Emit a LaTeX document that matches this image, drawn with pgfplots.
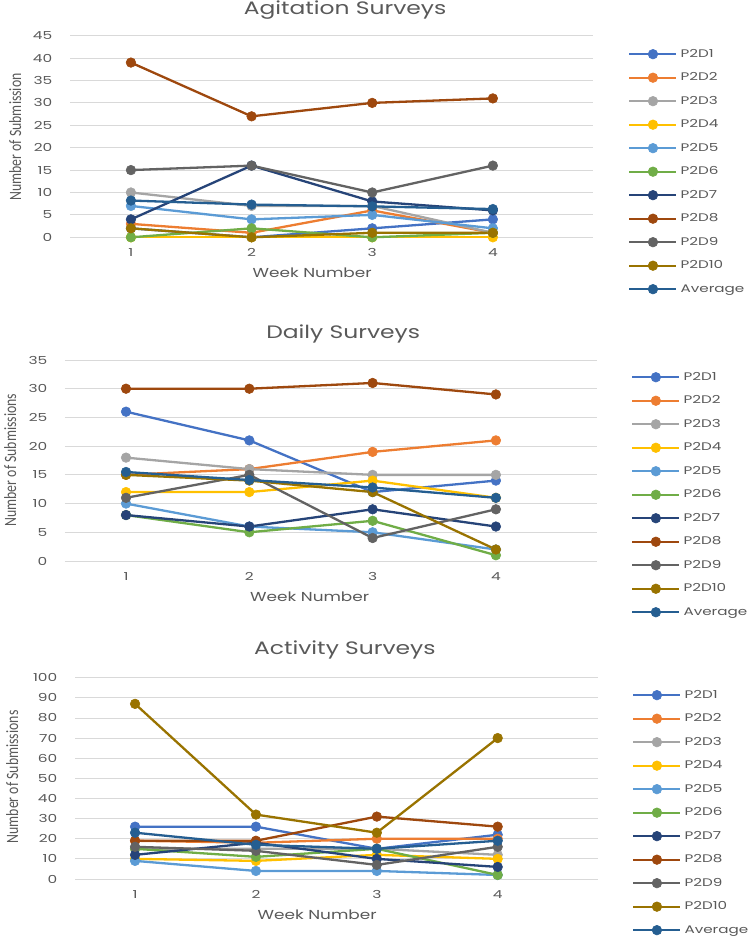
\documentclass[border=0pt]{standalone}
\usepackage{pgfplots}
\pgfplotsset{compat=1.18}
\usepackage{graphicx}
\usepackage{fontspec}
\setmainfont{Poppins}
\newfontfamily\narrowfont{Carlito}
\newfontfamily\tickfont[FakeStretch=1.4]{Poppins}
\newfontfamily\legfont[FakeStretch=1.38]{Poppins}
\newfontfamily\titlefont[FakeStretch=1.3]{Poppins}
\definecolor{c1}{HTML}{4472C4}
\definecolor{c2}{HTML}{ED7D31}
\definecolor{c3}{HTML}{A5A5A5}
\definecolor{c4}{HTML}{FFC000}
\definecolor{c5}{HTML}{5B9BD5}
\definecolor{c6}{HTML}{70AD47}
\definecolor{c7}{HTML}{264478}
\definecolor{c8}{HTML}{9E480E}
\definecolor{c9}{HTML}{636363}
\definecolor{c10}{HTML}{997300}
\definecolor{cavg}{HTML}{255E91}
\definecolor{txt}{HTML}{595959}
\definecolor{gridc}{HTML}{D9D9D9}

\pgfplotsset{
 survey/.style={
  scale only axis,
  anchor=south west,
  xtick={1,2,3,4},
  ymin=0,
  axis line style={draw=none},
  major tick style={draw=none},
  ymajorgrids,
  major grid style={draw=gridc, line width=0.8pt},
  clip=false,
  /pgf/number format/assume math mode=true,
  every tick label/.append style={font=\tickfont\fontsize{11}{13}\selectfont, text=txt},
  xticklabel style={anchor=base, yshift=-19.4pt},
  yticklabel style={anchor=east, inner sep=0pt, xshift=-17.5pt},
  title style={font=\titlefont\fontsize{18}{21}\selectfont, text=txt, anchor=base},
  xlabel style={font=\titlefont\fontsize{13}{15}\selectfont, text=txt, anchor=base},
  ylabel style={font=\narrowfont\fontsize{13.8}{16}\selectfont, text=txt, anchor=center},
  every axis plot/.append style={line width=2.3pt, mark=*, mark size=4.8pt, mark options={solid, line width=0.6pt}},
  legend style={draw=none, fill=none, anchor=north west, font=\legfont\fontsize{11}{13}\selectfont, text=txt, row sep=13.5pt, nodes={inner sep=0pt, text height=8pt, text depth=2pt}, column sep=3pt},
  legend cell align=left,
  legend image code/.code={\draw[mark repeat=2, mark phase=2] plot coordinates {(0pt,0pt) (23.5pt,0pt) (47pt,0pt)};},
 }
}

\begin{document}
\begin{tikzpicture}
\useasboundingbox (0,0) rectangle (750pt,939pt);

% ---------------- Agitation Surveys ----------------
\begin{axis}[survey,
  at={(70pt,701.7pt)}, width=523pt, height=201.6pt,
  xmin=0.495, xmax=4.83, ymax=45, ytick={0,5,...,45},
  title={Agitation Surveys},
  title style={at={(axis description cs:0.526,1)}, yshift=14.7pt},
  xlabel={Week Number},
  xlabel style={at={(axis description cs:0.463,0)}, yshift=-40.4pt},
  ylabel={\scalebox{1}[1.25]{Number of Submission}},
  ylabel style={at={(axis description cs:-0.105,0.4975)}},
  legend style={at={(axis description cs:1.0614,0.944)}},
]
\addplot[color=c1] coordinates {(1,2) (2,0) (3,2) (4,4)};
\addplot[color=c2] coordinates {(1,3) (2,1) (3,6) (4,1)};
\addplot[color=c3] coordinates {(1,10) (2,7) (3,7) (4,1)};
\addplot[color=c4] coordinates {(1,0) (2,0) (3,0) (4,0)};
\addplot[color=c5] coordinates {(1,7) (2,4) (3,5) (4,2)};
\addplot[color=c6] coordinates {(1,0) (2,2) (3,0) (4,1)};
\addplot[color=c7] coordinates {(1,4) (2,16) (3,8) (4,6)};
\addplot[color=c8] coordinates {(1,39) (2,27) (3,30) (4,31)};
\addplot[color=c9] coordinates {(1,15) (2,16) (3,10) (4,16)};
\addplot[color=c10] coordinates {(1,2) (2,0) (3,1) (4,1)};
\addplot[color=cavg] coordinates {(1,8.2) (2,7.3) (3,6.9) (4,6.3)};
\legend{P2D1,P2D2,P2D3,P2D4,P2D5,P2D6,P2D7,P2D8,P2D9,P2D10,Average}
\end{axis}

% ---------------- Daily Surveys ----------------
\begin{axis}[survey,
  at={(65pt,378pt)}, width=532pt, height=201pt,
  xmin=0.505, xmax=4.82, ymax=35, ytick={0,5,...,35},
  title={Daily Surveys},
  title style={at={(axis description cs:0.523,1)}, yshift=15.7pt},
  xlabel={Week Number},
  xlabel style={at={(axis description cs:0.46,0)}, yshift=-40.4pt},
  ylabel={\scalebox{1}[1.25]{Number of Submissions}},
  ylabel style={at={(axis description cs:-0.103,0.502)}},
  legend style={at={(axis description cs:1.0583,0.950)}},
]
\addplot[color=c1] coordinates {(1,26) (2,21) (3,12) (4,14)};
\addplot[color=c2] coordinates {(1,15) (2,16) (3,19) (4,21)};
\addplot[color=c3] coordinates {(1,18) (2,16) (3,15) (4,15)};
\addplot[color=c4] coordinates {(1,12) (2,12) (3,14) (4,11)};
\addplot[color=c5] coordinates {(1,10) (2,6) (3,5) (4,2)};
\addplot[color=c6] coordinates {(1,8) (2,5) (3,7) (4,1)};
\addplot[color=c7] coordinates {(1,8) (2,6) (3,9) (4,6)};
\addplot[color=c8] coordinates {(1,30) (2,30) (3,31) (4,29)};
\addplot[color=c9] coordinates {(1,11) (2,15) (3,4) (4,9)};
\addplot[color=c10] coordinates {(1,15) (2,14) (3,12) (4,2)};
\addplot[color=cavg] coordinates {(1,15.5) (2,14.1) (3,12.8) (4,11)};
\legend{P2D1,P2D2,P2D3,P2D4,P2D5,P2D6,P2D7,P2D8,P2D9,P2D10,Average}
\end{axis}

% ---------------- Activity Surveys ----------------
\begin{axis}[survey,
  at={(75pt,60pt)}, width=523pt, height=201.3pt,
  xmin=0.503, xmax=4.83, ymax=100, ytick={0,10,...,100},
  title={Activity Surveys},
  title style={at={(axis description cs:0.516,1)}, yshift=16.7pt},
  xlabel={Week Number},
  xlabel style={at={(axis description cs:0.463,0)}, yshift=-41pt},
  ylabel={\scalebox{1}[1.25]{Number of Submissions}},
  ylabel style={at={(axis description cs:-0.12,0.507)}},
  legend style={at={(axis description cs:1.0594,0.949)}},
]
\addplot[color=c1] coordinates {(1,26) (2,26) (3,15) (4,22)};
\addplot[color=c2] coordinates {(1,19) (2,18) (3,20) (4,20)};
\addplot[color=c3] coordinates {(1,15) (2,15) (3,15) (4,12)};
\addplot[color=c4] coordinates {(1,10) (2,9) (3,12) (4,10)};
\addplot[color=c5] coordinates {(1,9) (2,4) (3,4) (4,2)};
\addplot[color=c6] coordinates {(1,15) (2,11) (3,15) (4,2)};
\addplot[color=c7] coordinates {(1,12) (2,18) (3,10) (4,6)};
\addplot[color=c8] coordinates {(1,19) (2,19) (3,31) (4,26)};
\addplot[color=c9] coordinates {(1,16) (2,14) (3,7) (4,16)};
\addplot[color=c10] coordinates {(1,87) (2,32) (3,23) (4,70)};
\addplot[color=cavg] coordinates {(1,23) (2,17) (3,15) (4,19)};
\legend{P2D1,P2D2,P2D3,P2D4,P2D5,P2D6,P2D7,P2D8,P2D9,P2D10,Average}
\end{axis}
\end{tikzpicture}
\end{document}
